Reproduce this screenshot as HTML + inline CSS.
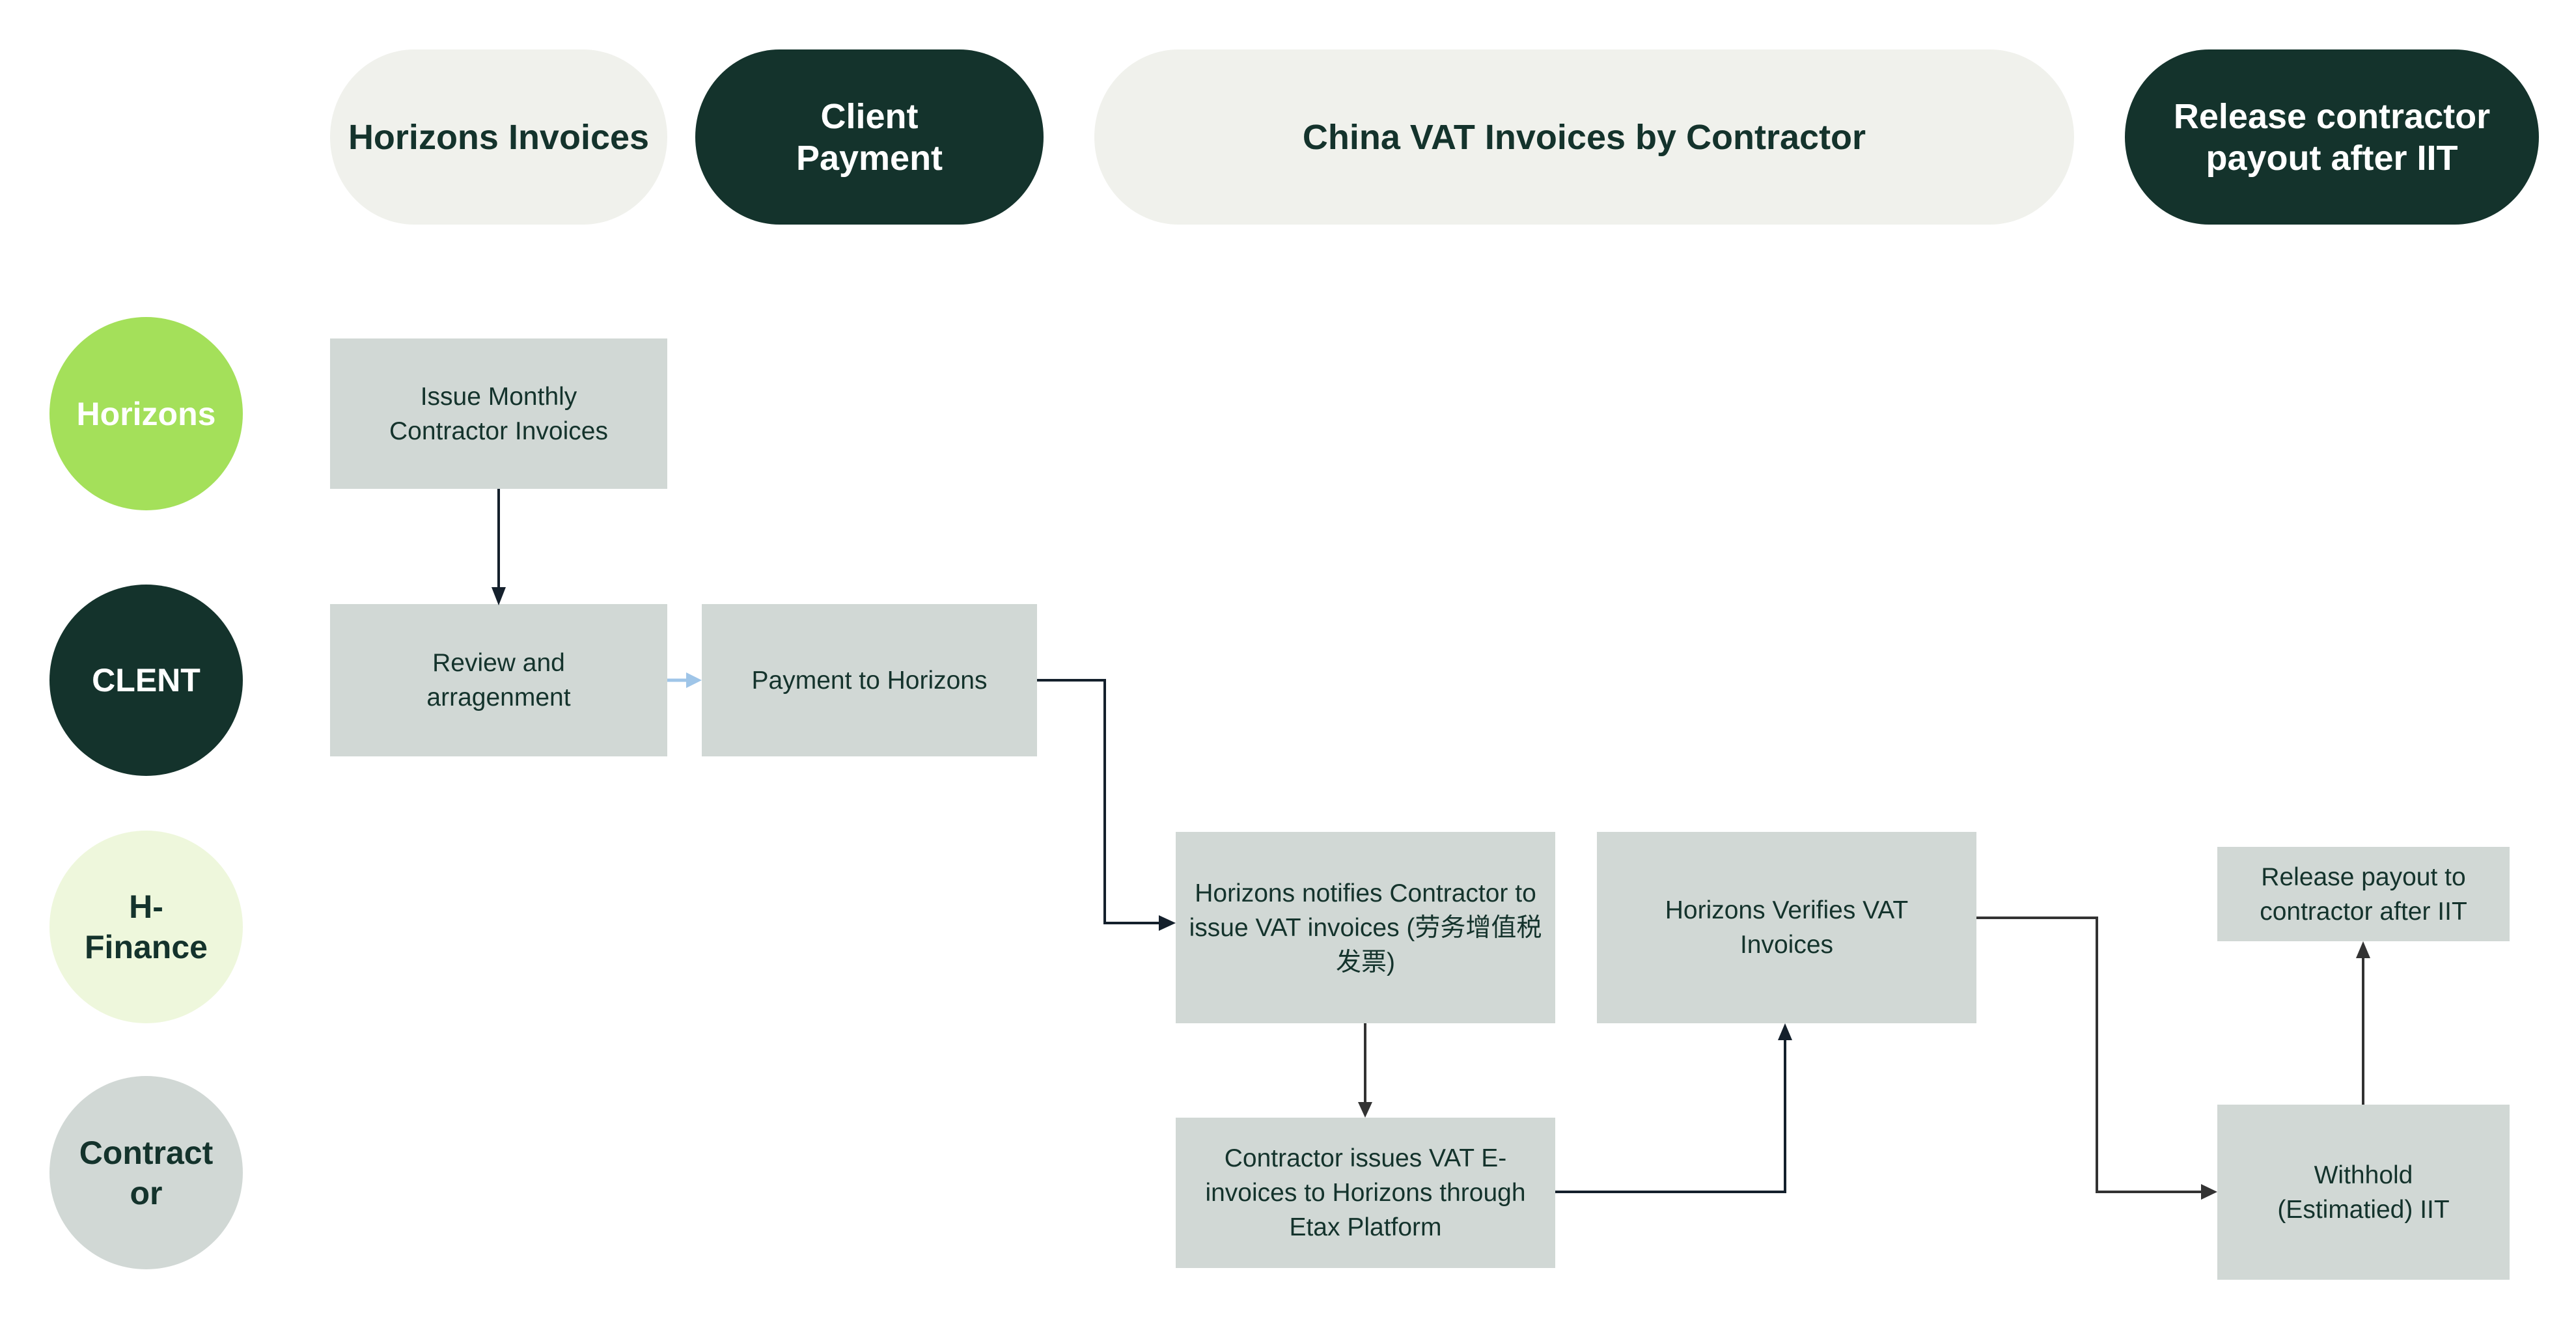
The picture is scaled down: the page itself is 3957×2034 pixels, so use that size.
<!DOCTYPE html>
<html><head><meta charset="utf-8"><style>
body{margin:0;width:3957px;height:2034px;background:#fff;position:relative;overflow:hidden;font-family:"Liberation Sans","DejaVu Sans","Noto Sans CJK SC",sans-serif}
.p{position:absolute;display:flex;align-items:center;justify-content:center;text-align:center;font-weight:bold;font-size:54px;line-height:64px;border-radius:130px/135px}
.l{background:#f0f1ec;color:#14332c}.d{background:#14332c;color:#fff}
.c{position:absolute;display:flex;align-items:center;justify-content:center;text-align:center;font-weight:bold;font-size:50px;line-height:62px;border-radius:50%}
.b{position:absolute;display:flex;align-items:center;justify-content:center;text-align:center;background:#d1d8d5;color:#14332c;font-size:39px;line-height:53px;box-sizing:border-box;padding:0 20px}
svg{position:absolute;left:0;top:0}
</style></head><body>
<div class="p l" style="left:507px;top:76px;width:518px;height:269px">Horizons Invoices</div>
<div class="p d" style="left:1068px;top:76px;width:535px;height:269px">Client<br>Payment</div>
<div class="p l" style="left:1681px;top:76px;width:1505px;height:269px">China VAT Invoices by Contractor</div>
<div class="p d" style="left:3264px;top:76px;width:636px;height:269px">Release contractor<br>payout after IIT</div>

<div class="c" style="left:76px;top:487px;width:297px;height:297px;background:#a4e05a;color:#fff">Horizons</div>
<div class="c" style="left:76px;top:898px;width:297px;height:294px;background:#14332c;color:#fff">CLENT</div>
<div class="c" style="left:76px;top:1276px;width:297px;height:296px;background:#eef7dc;color:#14332c">H-<br>Finance</div>
<div class="c" style="left:76px;top:1653px;width:297px;height:297px;background:#d1d8d5;color:#14332c">Contract<br>or</div>

<div class="b" style="left:507px;top:520px;width:518px;height:231px">Issue Monthly<br>Contractor Invoices</div>
<div class="b" style="left:507px;top:928px;width:518px;height:234px">Review and<br>arragenment</div>
<div class="b" style="left:1078px;top:928px;width:515px;height:234px">Payment to Horizons</div>
<div class="b" style="left:1806px;top:1278px;width:583px;height:294px">Horizons notifies Contractor to issue VAT invoices (劳务增值税发票)</div>
<div class="b" style="left:2453px;top:1278px;width:583px;height:294px">Horizons Verifies VAT<br>Invoices</div>
<div class="b" style="left:1806px;top:1717px;width:583px;height:231px;padding:0 40px">Contractor issues VAT E-invoices to Horizons through Etax Platform</div>
<div class="b" style="left:3406px;top:1301px;width:449px;height:145px">Release payout to<br>contractor after IIT</div>
<div class="b" style="left:3406px;top:1697px;width:449px;height:269px">Withhold<br>(Estimatied) IIT</div>

<svg width="3957" height="2034" viewBox="0 0 3957 2034">
<g fill="none" stroke-width="4">
<path d="M766 751V905" stroke="#14202c"/>
<path d="M1025 1045H1058" stroke="#9fc5e8" stroke-width="5"/>
<path d="M1593 1045H1697V1418H1785" stroke="#14202c"/>
<path d="M2097 1572V1697" stroke="#333"/>
<path d="M2389 1831H2742V1595" stroke="#14202c"/>
<path d="M3036 1410H3221V1831H3385" stroke="#333"/>
<path d="M3630 1697V1468" stroke="#333"/>
</g>
<g>
<polygon points="755,902 777,902 766,930" fill="#14202c"/>
<polygon points="1054,1033 1054,1057 1078,1045" fill="#9fc5e8"/>
<polygon points="1780,1406 1780,1430 1806,1418" fill="#14202c"/>
<polygon points="2086,1693 2108,1693 2097,1717" fill="#333"/>
<polygon points="2731,1598 2753,1598 2742,1572" fill="#14202c"/>
<polygon points="3381,1819 3381,1843 3406,1831" fill="#333"/>
<polygon points="3619,1472 3641,1472 3630,1446" fill="#333"/>
</g>
</svg>
</body></html>
